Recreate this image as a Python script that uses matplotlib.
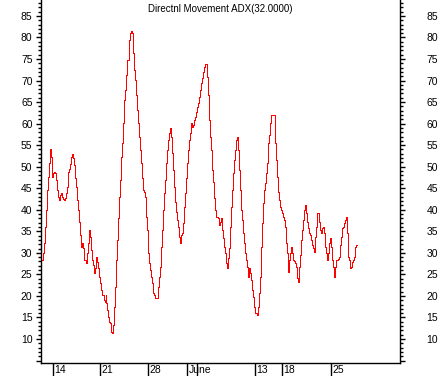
import matplotlib
matplotlib.use("Agg")
import matplotlib.pyplot as plt
import matplotlib.transforms as mtransforms
import numpy as np

plt.rcParams['font.family'] = ['Liberation Sans', 'DejaVu Sans']

title = "Directnl Movement ADX(32.0000)"

# ADX value per bar
adx = [
    28.4, 30.0, 32.3, 36.0, 40.0, 44.6, 47.6, 50.9, 54.1, 52.3,
    47.6, 48.5, 48.8, 48.5, 46.9, 44.6, 43.0, 42.3, 43.4, 43.9,
    43.0, 42.5, 42.3, 42.7, 43.9, 45.3, 48.8, 49.5, 50.6, 52.3,
    53.0, 52.0, 50.4, 47.4, 45.3, 42.3, 40.0, 37.2, 34.2, 31.4,
    32.3, 31.1, 28.3, 28.3, 27.6, 30.0, 32.3, 35.3, 33.7, 30.7,
    28.3, 27.2, 25.3, 26.5, 29.0, 27.9, 26.5, 24.4, 23.0, 21.4,
    20.2, 20.2, 19.1, 18.6, 20.2, 18.4, 16.7, 15.1, 14.0, 13.7,
    11.6, 11.4, 13.3, 17.4, 22.1, 28.3,
    33.0, 38.1, 43.0, 46.9, 52.3, 55.5, 60.2, 65.5, 67.8, 71.3,
    74.8, 79.4, 81.0, 81.5, 81.0, 76.4, 72.5, 70.1, 66.7, 63.2,
    60.2, 56.9, 53.9, 50.9, 47.4, 44.6, 44.1, 43.0, 38.3, 35.3,
    30.0, 27.6, 26.0, 24.4, 23.0, 20.7, 20.2, 19.5, 19.5, 19.5,
    22.1, 24.4, 26.7, 31.4, 35.3, 40.0, 43.9, 46.9, 50.9, 53.9,
    56.2, 57.8, 58.5, 59.0, 56.9, 53.2, 49.2, 45.3, 41.8, 39.5,
    37.6, 36.0, 33.7, 32.3, 34.2, 34.6, 36.9, 40.7, 43.9, 47.4,
    50.9, 53.9, 56.2, 57.8, 60.2,
    59.2, 59.7, 60.9, 61.6, 62.7, 63.9, 64.8, 66.2, 67.8, 69.4,
    70.6, 72.0, 73.2, 73.9, 73.9, 70.8, 66.7, 60.9, 56.9, 53.9,
    49.2, 46.5, 42.7, 40.0, 38.3, 38.3, 38.1, 36.5, 37.2, 38.1,
    35.3, 33.5, 31.4, 30.0, 27.6, 26.5, 28.8, 31.1, 36.0, 40.7,
    44.6, 48.5, 51.6, 53.9, 56.2, 56.9, 53.9, 49.2, 44.6, 40.0,
    37.6, 34.6, 32.3, 30.0, 28.3, 26.7, 24.4, 26.5, 25.3, 23.7,
    21.4, 19.8, 17.4, 16.0, 15.6, 17.4, 20.7, 24.4, 31.4, 36.9,
    41.6, 44.6, 46.2, 48.5, 50.9,
    55.5, 57.4, 60.2, 62.0, 62.0, 62.0, 62.0, 55.5, 51.6, 47.6,
    44.1, 42.3, 40.7, 40.0, 39.3, 38.3, 37.6, 36.0, 32.3, 30.0,
    25.6, 28.3, 30.0, 31.4, 30.0, 28.3, 28.1, 27.6, 26.7, 24.2,
    23.7, 23.3, 26.7, 29.5, 33.0, 35.3, 37.6, 40.0, 41.1, 39.3,
    37.2, 35.8, 34.6, 34.2, 33.0, 31.8, 31.1, 30.2, 33.7, 36.0,
    39.3, 39.3, 37.2, 35.3, 34.6, 35.8, 36.0, 34.6, 31.4, 30.0,
    28.3, 30.0, 32.3, 33.5, 31.4, 28.3, 26.7, 24.4, 26.7, 28.3,
    28.3, 28.6, 29.0, 31.8, 33.7, 35.8, 36.0, 36.9, 37.6, 38.3,
    34.6, 29.0, 28.3, 26.5, 26.7, 27.9, 28.3, 29.0, 31.4, 31.8,
]

# bar index where each date label starts
date_bars = [11, 58, 106, 145, 155, 213, 240, 289]
date_labels = ["14", "21", "28", "June", "", "13", "18", "25"]

y_major = list(range(5, 90, 5))
y_labels = [""] + [str(v) for v in y_major[1:]]

fig = plt.figure(figsize=(4.41, 3.76), dpi=100)
ax = fig.add_axes([41 / 441, 13 / 376, 359 / 441, 363 / 376])

x = np.arange(len(adx))
ax.plot(x, adx, color="#ff0000", lw=0.72, drawstyle="steps-mid", antialiased=False)

ax.set_xlim(-1, 358)
ax.set_ylim(4.43, 88.7)

ax.spines["top"].set_visible(False)
for s in ["left", "right", "bottom"]:
    ax.spines[s].set_linewidth(1.0)

ax.set_yticks(y_major)
ax.set_yticklabels(y_labels)
ax.set_yticks(np.arange(5, 89, 1), minor=True)
ax.tick_params(axis="y", which="both", left=True, right=True,
               labelleft=True, labelright=True, direction="out",
               labelsize=7.5, width=1.0)
ax.tick_params(axis="y", which="major", length=3.6, pad=2.5)
ax.tick_params(axis="y", which="minor", length=2.0)
for t in ax.yaxis.get_major_ticks():
    t.label2.set_horizontalalignment("left")
    t.label2.set_transform(t.label2.get_transform() +
                           mtransforms.ScaledTranslation(18 / 100, 0, fig.dpi_scale_trans))

ax.set_xticks(date_bars)
ax.set_xticklabels(date_labels)
ax.tick_params(axis="x", direction="out", length=9.4, width=1.0,
               labelsize=7.5, pad=-8.2)
for lab in ax.get_xticklabels():
    lab.set_horizontalalignment("left")
    lab.set_transform(lab.get_transform() +
                      mtransforms.ScaledTranslation(1.5 / 100, 0, fig.dpi_scale_trans))

fig.text(220 / 441, 1 - 9 / 376, title, ha="center", va="center", fontsize=7)

fig.savefig("out.png", dpi=100)
